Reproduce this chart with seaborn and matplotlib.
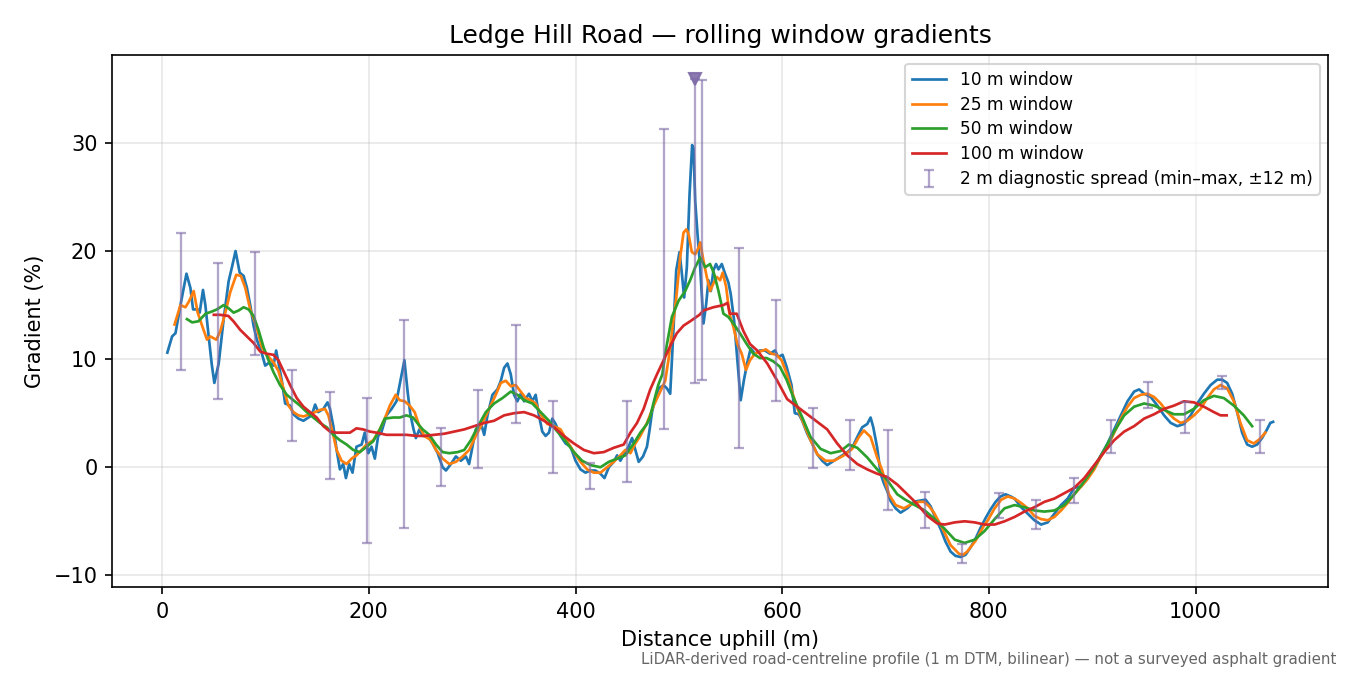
import numpy as np
import pandas as pd
import matplotlib
matplotlib.use("Agg")
import matplotlib.pyplot as plt
import seaborn as sns

# values (distance in m, gradient in %)
d10 = [5, 9.6, 12.9, 17.7, 23.5, 27.3, 29.9, 34.4, 36.3, 39.5, 41.8, 45, 48, 50.5, 54.7,
       59.5, 64.3, 67.5, 71, 75, 78.8, 82, 85.2, 88.4, 91.6, 96.5, 99.7, 103.9, 107.7,
       110.3, 112.5, 115.8, 119, 123.8, 127, 131.8, 136.7, 141.5, 144.7, 148, 151, 156,
       160, 162.4, 165.6, 168.8, 172, 175.2, 177.8, 181, 184.2, 188, 193, 196, 199.4,
       202.6, 205.8, 209, 212, 217, 222, 226.7, 230.5, 234.4, 237.5, 240, 243, 245.5,
       248.9, 252, 256.9, 261.7, 266.6, 271.4, 274.6, 279.4, 284.2, 289, 293.9, 297,
       300.3, 303.5, 308.4, 311.6, 314.8, 319.6, 324.4, 327.7, 330.9, 334.1, 337.3,
       340.5, 343.7, 347, 350.2, 355, 358.2, 361.4, 364.6, 367.8, 371, 374.3, 377.5,
       380.7, 385.5, 390.4, 395.2, 400, 404.8, 409.6, 414.5, 419.3, 424.1, 428, 432.2,
       437, 440.2, 443.4, 447.3, 451.4, 454.7, 457.9, 461.1, 465.3, 469.1, 471.7, 474,
       477.2, 480.4, 485.2, 488.4, 491.6, 494.9, 497.4, 500.6, 502.9, 505.1, 507.7,
       510.3, 512.8, 514.1, 515.8, 518, 520.6, 523.8, 526.4, 528.6, 530.9, 533.4, 536,
       538.3, 541.5, 544.7, 547.9, 550.2, 553.4, 556.6, 559.8, 563, 566, 569.5, 573.6,
       578.5, 583.3, 588.1, 593, 596.1, 600.3, 604.2, 609, 612.2, 616.1, 619.4, 624.2,
       629, 633.9, 638.7, 643.5, 648.4, 653.2, 658.1, 662.9, 667.7, 672.6, 677.4, 682.3,
       685.5, 688.1, 691.9, 695.2, 698.4, 701.6, 704.8, 709.7, 714.5, 721, 727.4, 732.3,
       738.7, 743.5, 748.4, 753.2, 758.1, 762.9, 767.7, 772.6, 777.4, 782.3, 787.1,
       791.9, 796.8, 801.6, 806.5, 811.3, 816.1, 821, 824.8, 831.2, 837.6, 844, 850.5,
       856.9, 863.3, 869.8, 876.2, 882.6, 889.1, 895.5, 901.9, 908.4, 914.8, 921.2,
       927.7, 934.1, 940.5, 945.3, 950.2, 956.6, 963, 969.5, 975.9, 982.3, 988.7, 995.2,
       1001.6, 1008, 1014.5, 1020.9, 1025.7, 1030.5, 1035.4, 1040.2, 1045, 1049.9,
       1054.7, 1059.5, 1064.3, 1069.1, 1072.3, 1075]
g10 = [10.6, 12.1, 12.4, 15.0, 17.9, 16.6, 14.6, 14.6, 14.3, 16.4, 15.0, 12.1, 9.5, 7.8, 9.6,
       13.7, 17.2, 18.5, 20.0, 18.0, 17.7, 16.6, 15.0, 13.1, 11.8, 10.5, 9.4, 9.7, 9.4,
       10.8, 9.7, 8.0, 5.9, 5.7, 4.9, 4.5, 4.3, 4.6, 4.8, 5.8, 5.1, 5.4,
       6.0, 5.4, 3.8, 1.6, -0.2, 0.3, -1.0, 0.3, -0.5, 1.9, 2.1, 3.2, 1.3,
       1.9, 0.8, 2.9, 3.2, 4.8, 5.4, 6.1, 8.0, 9.9, 7.0, 5.0, 3.6, 2.7,
       3.5, 2.9, 2.9, 2.2, 1.3, 0.0, -0.3, 0.3, 1.0, 0.6, 1.0, 0.3,
       1.9, 3.5, 4.1, 3.0, 4.8, 6.7, 7.2, 8.0, 9.2, 9.6, 8.6,
       6.7, 6.1, 6.8, 6.1, 6.8, 6.1, 6.7, 4.8, 3.3, 2.9, 3.2, 4.5,
       4.0, 2.9, 2.2, 1.9, 0.6, -0.2, -0.5, -0.3, -0.3, -0.6, -1.0, 0.0,
       0.5, 1.1, 0.6, 1.3, 1.9, 2.7, 1.6, 0.5, 1.0, 1.9, 3.5, 5.1,
       6.4, 7.3, 7.6, 7.3, 6.8, 13.0, 18.2, 19.9, 17.9, 15.7, 18.5,
       25.2, 29.8, 29.5, 24.6, 21.6, 18.5, 13.3, 15.1, 17.3, 16.3, 18.2, 18.8,
       18.3, 18.8, 17.9, 17.1, 16.0, 13.6, 9.9, 6.2, 8.1, 9.6, 11.0, 10.5,
       10.8, 10.8, 10.5, 10.8, 10.2, 10.4, 9.3, 7.6, 5.0, 4.9, 4.3, 3.1,
       2.2, 1.2, 0.6, 0.2, 0.5, 0.8, 1.1, 1.4, 1.8, 2.8, 3.7, 4.0,
       4.6, 3.7, 1.8, -0.6, -1.5, -2.2, -3.1, -3.8, -4.2, -3.8, -3.2, -3.1,
       -3.0, -3.6, -4.7, -5.7, -6.9, -7.8, -8.2, -8.3, -8.1, -7.4, -6.6,
       -5.6, -4.7, -3.9, -3.2, -2.7, -2.5, -2.7, -2.9, -3.7, -4.3, -4.9, -5.3,
       -5.1, -4.3, -3.5, -2.9, -1.9, -1.8, -1.0, 0.0, 1.1, 2.2, 3.5,
       4.8, 6.1, 7.0, 7.2, 6.8, 6.5, 5.7, 4.8, 4.1, 3.8, 4.0, 4.8,
       5.9, 6.8, 7.6, 8.1, 8.1, 7.8, 6.8, 5.1, 3.2, 2.1,
       1.9, 2.1, 2.7, 3.5, 4.1, 4.2]

d25 = [12, 17.7, 22.5, 25.7, 30.5, 34.4, 38.6, 43.4, 46.6, 52.4, 56.3, 61.1, 65.9, 71.7,
       76.2, 80.4, 85.2, 91, 96.5, 101.3, 107.7, 112.5, 117.4, 122.2, 127, 131.8, 136.7,
       143.1, 148, 152.7, 157.6, 160.8, 165, 168.8, 173.6, 178.5, 183.3, 188, 193, 197.7,
       204.2, 210.6, 215.4, 220.3, 226, 229.9, 234.7, 239.5, 244.3, 248.9, 253.7, 260.1,
       265, 271.4, 277.8, 284.2, 290.7, 297.1, 303.5, 310, 316.4, 322.8, 327.7, 332.5,
       337.3, 342.1, 347, 351.8, 356.6, 361.4, 366.2, 372.7, 379.1, 385.5, 392, 398.4,
       404.8, 411.3, 417.7, 424.1, 430.5, 437, 443.4, 448.2, 453.1, 457.9, 462.7, 469.1,
       475.6, 479, 482, 486.8, 490, 493.2, 497.4, 501.2, 504.5, 507.1, 509.3, 512.5,
       515.8, 519, 520.6, 523.8, 527, 530.2, 533.4, 536.7, 539.9, 542.4, 545.7, 548.9,
       552.7, 556.6, 560.8, 564.9, 568.8, 573.6, 578.5, 584.2, 589.7, 594.5, 599.4,
       604.2, 608.1, 614.5, 621, 627.4, 633.9, 641.9, 650, 659.7, 667.7, 674.2, 679,
       685.5, 691.9, 696.8, 703.2, 709.7, 717.7, 723.5, 731.5, 737.1, 742, 746.8, 754.8,
       762.9, 771, 775, 779, 787.1, 795.2, 799, 805.5, 811.9, 818.3, 824.8, 831.2, 837.6,
       844, 850.5, 856.9, 863.3, 869.8, 876.2, 882.6, 889.1, 895.5, 901.9, 908.4, 914.8,
       921.2, 927.7, 934.1, 940.5, 946.9, 953.4, 959.8, 966.2, 972.7, 979.1, 985.5, 992,
       998.4, 1004.8, 1011.3, 1017.7, 1024.1, 1030.5, 1037, 1043.4, 1049.8, 1056.3,
       1062, 1067.5]
g25 = [13.2, 15.0, 14.8, 15.3, 16.3, 14.3, 13.1, 11.8, 12.1, 11.8, 12.6, 14.3, 16.2, 17.8,
       17.7, 16.6, 14.6, 13.1, 11.1, 10.4, 9.7, 8.9, 7.3, 5.7, 5.1, 4.8, 4.7,
       4.9, 5.1, 5.3, 5.4, 4.8, 3.2, 1.6, 0.6, 0.3, 0.8, 1.1, 1.6, 2.1,
       2.5, 3.5, 4.5, 5.7, 6.7, 6.2, 6.1, 5.7, 5.1, 3.8, 2.9, 2.5,
       1.6, 0.8, 0.3, 0.5, 1.0, 1.6, 2.9, 4.1, 5.4, 6.7, 7.8, 8.0,
       7.5, 7.6, 7.0, 6.4, 6.2, 5.9, 4.9, 4.0, 3.8, 3.5, 2.4, 1.4,
       0.5, -0.2, -0.5, -0.5, 0.0, 0.5, 1.1, 1.6, 1.3, 2.2, 2.9, 4.1,
       5.7, 6.4, 7.0, 8.0, 10.0, 12.4, 15.6, 19.4, 21.7, 22.0, 21.6, 19.9,
       19.7, 20.3, 20.8, 19.1, 17.6, 16.3, 17.0, 17.6, 17.3, 18.0, 16.7, 14.2,
       13.0, 11.4, 10.5, 9.0, 9.9, 10.5, 10.7, 10.9, 10.5, 10.4, 9.9,
       8.7, 7.4, 5.5, 4.0, 2.5, 1.2, 0.6, 0.6, 1.1, 1.7, 2.8, 3.4,
       2.8, 0.9, -0.3, -2.5, -3.5, -3.8, -3.5, -3.2, -3.2, -3.6, -4.2, -5.6,
       -7.2, -8.0, -8.1, -7.8, -6.8, -5.4, -4.9, -3.8, -3.0, -2.7, -2.9, -3.3, -3.8,
       -4.5, -4.8, -4.9, -4.6, -4.0, -3.3, -2.5, -1.8, -1.1, -0.2, 1.0, 1.9,
       3.2, 4.5, 5.6, 6.4, 6.7, 6.8, 6.5, 5.9, 5.1, 4.5, 4.1, 4.3,
       4.8, 5.4, 6.4, 7.2, 7.6, 7.3, 6.1, 4.1, 2.5, 2.2,
       2.6, 3.2]

d50 = [24, 29, 35, 42, 48, 53, 59.5, 64.3, 69.1, 74, 78.8, 83.6, 88.4, 93.2, 98.1, 102.9,
       107.7, 114.1, 120.6, 127, 133.4, 139.9, 146.3, 152.7, 159.2, 165.6, 172, 178.5,
       184.9, 191.3, 197.7, 204.2, 210.6, 215.4, 223.5, 229.9, 236.3, 242.8, 247.6,
       252.1, 258.5, 265, 271.4, 277.8, 285.9, 292.3, 298.7, 305.1, 313.2, 321.2, 329.3,
       337.3, 343.7, 350.2, 358.2, 366.2, 374.3, 382.3, 390.4, 398.4, 406.4, 414.5,
       424.1, 432.2, 440.2, 448.2, 456.3, 462.7, 469.1, 472.3, 475.6, 480, 484, 486.8,
       493.2, 499.7, 506.1, 510.9, 515.8, 520.6, 525.4, 530.2, 534.1, 538.3, 543.1,
       547.9, 552.7, 559.1, 565.6, 572, 578.5, 584.9, 591.3, 597.7, 604.2, 610.6, 619.4,
       627.4, 637.1, 646.8, 656.5, 664.5, 672.6, 682.3, 691.9, 701.6, 711.3, 719, 728.3,
       737.9, 747.6, 757.2, 766.9, 776.5, 786.2, 795.8, 805.5, 815.1, 824.8, 834.4, 844,
       853.7, 863.3, 873, 882.6, 892.3, 901.9, 911.6, 921.2, 930.9, 940.5, 950.2, 959.8,
       969.5, 979.1, 988.7, 998.4, 1008, 1017.7, 1027.3, 1037, 1046.6, 1054.7]
g50 = [13.7, 13.4, 13.5, 14.2, 14.4, 14.6, 15.0, 14.7, 14.3, 14.5, 14.8, 14.6, 14.0, 12.7, 11.1, 9.9,
       8.8, 7.6, 6.7, 6.2, 5.7, 5.1, 4.6, 4.1, 3.7, 3.0, 2.5, 2.1,
       1.6, 1.4, 1.9, 2.4, 3.5, 4.5, 4.6, 4.6, 4.8, 4.6, 4.0,
       3.5, 3.0, 2.1, 1.4, 1.3, 1.4, 1.6, 2.5, 3.7, 5.1, 5.9, 6.4,
       7.0, 6.7, 6.2, 5.9, 5.1, 4.3, 3.3, 2.4, 1.4, 0.6, 0.2,
       0.0, 0.5, 0.8, 1.1, 2.2, 3.2, 4.0, 4.7, 6.0, 7.6, 8.6, 10.5,
       13.9, 15.4, 16.3, 17.3, 18.5, 19.4, 18.5, 18.8, 17.9, 16.3, 14.2,
       13.9, 13.3, 12.4, 11.4, 10.5, 10.1, 10.1, 9.8, 9.3, 8.1, 6.5, 4.6,
       2.8, 1.7, 1.3, 1.5, 2.1, 1.8, 0.9, -0.2, -1.2, -2.5, -3.0, -3.5,
       -4.0, -4.8, -5.7, -6.7, -7.0, -6.7, -5.9, -4.8, -3.8, -3.5, -3.7, -4.0,
       -4.1, -4.0, -3.5, -2.5, -1.3, 0.0, 1.6, 3.3, 4.8, 5.6, 5.9, 5.7,
       5.3, 4.9, 4.9, 5.4, 6.2, 6.6, 6.4, 5.7, 4.8, 3.8]

d100 = [50, 56, 64, 69, 75.6, 82, 88.4, 94.9, 101.3, 107.7, 112.5, 117.4, 123.8, 130.2,
        136.7, 143.1, 149.5, 156, 162.4, 168.8, 175.2, 181.7, 188, 194.5, 201, 207.4, 217,
        226.7, 236.3, 246, 253.7, 263.3, 273, 282.6, 292.3, 301.9, 311.6, 321.2, 330.9,
        340.5, 350.2, 359.8, 369.5, 379.1, 388.7, 398.4, 408, 417.7, 427.3, 437, 446.6,
        453.1, 459.5, 465.9, 472.3, 478.8, 485.2, 491.6, 498, 504.5, 510.9, 519.9, 523.8,
        533.4, 543.1, 547, 549.5, 556, 562.4, 568.8, 575.8, 585.5, 595.2, 604.8, 614.5,
        624.2, 633.9, 643.5, 653.2, 662.9, 672.6, 682.3, 691.9, 701.6, 711.3, 721, 730.6,
        740.3, 750, 757.2, 766.9, 776.5, 786.2, 795.8, 805.5, 815.1, 824.8, 834.4, 844,
        853.7, 863.3, 873, 882.6, 892.3, 901.9, 911.6, 921.2, 930.9, 940.5, 950.2, 959.8,
        969.5, 979.1, 988.7, 998.4, 1008, 1017.7, 1024.1, 1030]
g100 = [14.1, 14.1, 14.0, 13.5, 12.7, 12.1, 11.5, 10.7, 10.5, 10.4, 9.9, 8.9, 7.6, 6.4,
        5.6, 5.1, 4.6, 3.8, 3.3, 3.2, 3.2, 3.2, 3.6, 3.5, 3.3, 3.2, 3.0,
        3.0, 3.0, 2.9, 2.9, 3.0, 3.1, 3.3, 3.5, 3.8, 4.1, 4.3, 4.8,
        5.0, 5.1, 4.8, 4.3, 3.7, 2.9, 2.2, 1.6, 1.3, 1.4, 1.8, 2.1,
        3.2, 4.1, 5.4, 7.2, 8.6, 9.9, 11.2, 12.4, 13.1, 13.5, 14.1, 14.5,
        14.8, 15.0, 15.2, 14.2, 14.2, 12.6, 11.4, 10.8, 9.6, 8.0, 6.3, 5.6,
        4.9, 4.2, 3.5, 2.2, 1.1, 0.3, -0.2, -0.6, -0.9, -1.6, -2.5, -3.4,
        -4.5, -5.2, -5.3, -5.1, -5.0, -5.1, -5.3, -5.3, -5.0, -4.6, -4.1, -3.7,
        -3.2, -2.9, -2.4, -1.9, -1.0, 0.2, 1.4, 2.5, 3.3, 3.8, 4.5, 4.9,
        5.4, 5.7, 6.1, 6.0, 5.6, 5.1, 4.8, 4.8]

# 2 m diagnostic spread: min / max within +-12 m
spread_x = [18, 54, 90, 126, 162, 198, 234, 270, 306, 342, 378, 414, 450, 486, 522,
            558, 594, 630, 666, 702, 738, 774, 810, 846, 882, 918, 954, 990, 1026, 1062]
spread_lo = [9.0, 6.3, 10.4, 2.4, -1.1, -7.0, -5.6, -1.7, -0.1, 4.1, -0.5, -2.0, -1.4, 3.5, 8.1,
             1.8, 6.1, -0.1, -0.3, -4.0, -5.6, -8.9, -4.7, -5.7, -3.3, 1.3, 5.5, 3.2, 7.2, 1.3]
spread_hi = [21.7, 18.9, 19.9, 9.0, 7.0, 6.4, 13.6, 3.6, 7.1, 13.2, 6.1, 0.4, 6.1, 31.3, 35.8,
             20.3, 15.5, 5.5, 4.4, 3.4, -2.3, -7.1, -2.4, -3.0, -1.0, 4.4, 7.9, 6.0, 8.4, 4.4]

# steepest 2 m sample, flagged with a marker
peak_x = 516
peak_lo = 7.8
peak_hi = 35.9

series = [("10 m window", d10, g10, "tab:blue"),
          ("25 m window", d25, g25, "tab:orange"),
          ("50 m window", d50, g50, "tab:green"),
          ("100 m window", d100, g100, "tab:red")]

fig, ax = plt.subplots(figsize=(9, 4.5), dpi=150)
fig.subplots_adjust(left=0.083, right=0.984, top=0.918, bottom=0.130)

for name, xs, ys, col in series:
    df = pd.DataFrame({"dist": xs, "grad": ys})
    sns.lineplot(data=df, x="dist", y="grad", ax=ax, color=col, linewidth=1.3,
                 label=name, estimator=None, sort=False)

spread_col = "#7e6ba8"
lo = np.array(spread_lo)
hi = np.array(spread_hi)
mid = (lo + hi) / 2
ax.errorbar(spread_x, mid, yerr=[mid - lo, hi - mid], fmt="none", ecolor=spread_col,
            elinewidth=1.1, capsize=2.3, capthick=1.1, alpha=0.6,
            label="2 m diagnostic spread (min–max, ±12 m)")
pmid = (peak_lo + peak_hi) / 2
ax.errorbar([peak_x], [pmid], yerr=[[pmid - peak_lo], [peak_hi - pmid]], fmt="none",
            ecolor=spread_col, elinewidth=1.1, capsize=2.3, capthick=1.1, alpha=0.6)
ax.plot([peak_x], [peak_hi], marker="v", markersize=6, color=spread_col, alpha=0.9,
        linestyle="none")

ax.set_xlim(-48.5, 1128.5)
ax.set_ylim(-11.1, 38.1)
ax.grid(True, alpha=0.3)
ax.set_xlabel("Distance uphill (m)")
ax.set_ylabel("Gradient (%)")
ax.set_title("Ledge Hill Road — rolling window gradients", fontsize=12)
ax.legend(loc="upper right", fontsize=8.2, labelspacing=0.4)

fig.text(0.99, 0.012,
         "LiDAR-derived road-centreline profile (1 m DTM, bilinear) — not a surveyed asphalt gradient",
         ha="right", va="bottom", fontsize=7.2, color="0.4")

fig.savefig("out.png", dpi=150)
plt.close(fig)
